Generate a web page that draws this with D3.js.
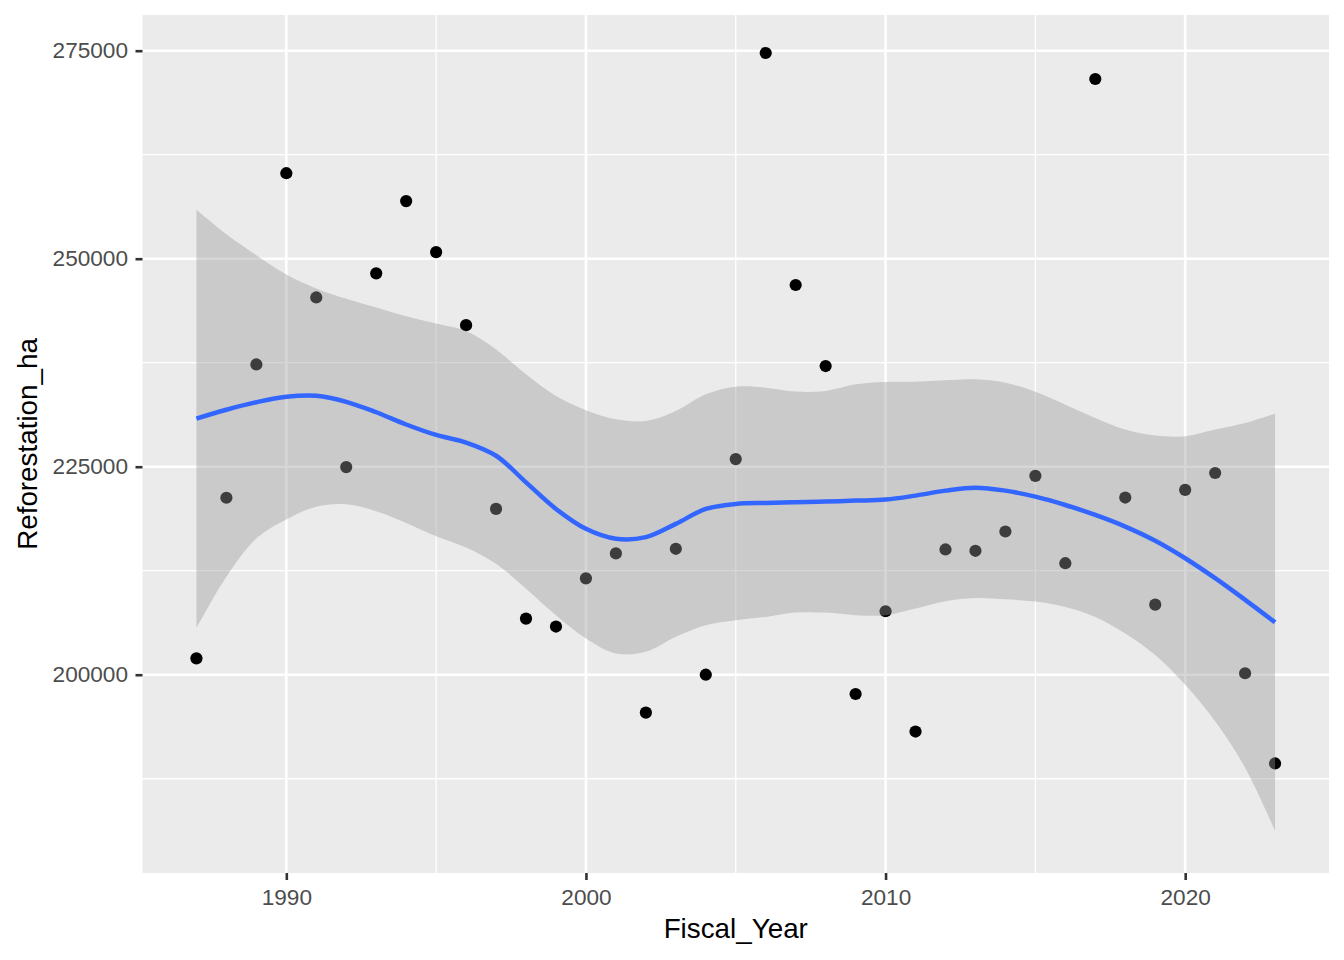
<!DOCTYPE html>
<html>
<head>
<meta charset="utf-8">
<script src="https://cdn.jsdelivr.net/npm/d3@7"></script>
<style>
  html, body { margin: 0; padding: 0; background: #ffffff; }
  svg { display: block; }
  text { font-family: "Liberation Sans", Arial, Helvetica, sans-serif; }
</style>
</head>
<body>
<svg id="chart" width="1344" height="960"></svg>
<script>
// ---- Data ----
const years = [1987,1988,1989,1990,1991,1992,1993,1994,1995,1996,1997,1998,1999,2000,2001,2002,2003,2004,2005,2006,2007,2008,2009,2010,2011,2012,2013,2014,2015,2016,2017,2018,2019,2020,2021,2022,2023];
const reforestation = [201971,221267,237290,260277,245344,224958,248238,256921,250797,242013,219928,206749,205791,211581,214577,195447,215136,200000,225919,274724,246839,237101,197684,207628,193171,215056,214896,217212,223900,213404,271599,221294,208424,222211,224243,200175,189337];
// loess smooth (fit and 95% band) read at each year
const smoothFit = [230789,231850,232750,233400,233515,232802,231544,230075,228817,227900,226318,223123,219928,217532,216334,216534,218131,219928,220527,220647,220727,220807,220927,221046,221526,222125,222484,222125,221400,220400,219200,217800,216100,214000,211600,209000,206300];
const smoothLower = [205600,211780,216390,218670,220190,220480,219650,218250,216650,215300,213339,210343,207149,204353,202556,202756,204553,205951,206550,206949,207468,207468,207149,207149,207947,208826,209225,209066,208800,208145,206950,204958,202368,198781,194398,188819,181248];
const smoothUpper = [255872,252936,250419,248112,246434,245176,244127,243079,242200,241300,239100,236100,233500,231800,230700,230500,231709,233706,234625,234505,234026,234105,234904,235184,235224,235383,235503,235104,234000,232451,230858,229463,228746,228666,229463,230260,231376];
const xTicks = [1990, 2000, 2010, 2020];
const xMinor = [1995, 2005, 2015];
const yTicks = [200000, 225000, 250000, 275000];
const yMinor = [187500, 212500, 237500, 262500];
const xDomain = [1985.2, 2024.8];
const yDomain = [176170, 279290];
const xLabel = "Fiscal_Year";
const yLabel = "Reforestation_ha";

// ---- Layout ----
const svg = d3.select("#chart");
const P = { left: 142.5, right: 1329, top: 15, bottom: 873 };

const x = d3.scaleLinear().domain(xDomain).range([P.left, P.right]);
const y = d3.scaleLinear().domain(yDomain).range([P.bottom, P.top]);

const pts = years.map((yr, i) => ({ yr, v: reforestation[i] }));
const sm = years.map((yr, i) => ({ yr, f: smoothFit[i], lo: smoothLower[i], hi: smoothUpper[i] }));

// panel background
svg.append("rect")
  .attr("x", P.left).attr("y", P.top)
  .attr("width", P.right - P.left).attr("height", P.bottom - P.top)
  .attr("fill", "#EBEBEB");

const grid = svg.append("g");
// minor grid
grid.selectAll("line.xmin").data(xMinor).join("line")
  .attr("class", "xmin")
  .attr("x1", d => x(d)).attr("x2", d => x(d))
  .attr("y1", P.top).attr("y2", P.bottom)
  .attr("stroke", "#ffffff").attr("stroke-width", 1.3);
grid.selectAll("line.ymin").data(yMinor).join("line")
  .attr("class", "ymin")
  .attr("x1", P.left).attr("x2", P.right)
  .attr("y1", d => y(d)).attr("y2", d => y(d))
  .attr("stroke", "#ffffff").attr("stroke-width", 1.3);
// major grid
grid.selectAll("line.xmaj").data(xTicks).join("line")
  .attr("class", "xmaj")
  .attr("x1", d => x(d)).attr("x2", d => x(d))
  .attr("y1", P.top).attr("y2", P.bottom)
  .attr("stroke", "#ffffff").attr("stroke-width", 2.6);
grid.selectAll("line.ymaj").data(yTicks).join("line")
  .attr("class", "ymaj")
  .attr("x1", P.left).attr("x2", P.right)
  .attr("y1", d => y(d)).attr("y2", d => y(d))
  .attr("stroke", "#ffffff").attr("stroke-width", 2.6);

// points
svg.append("g").selectAll("circle").data(pts).join("circle")
  .attr("cx", d => x(d.yr)).attr("cy", d => y(d.v))
  .attr("r", 6.1).attr("fill", "#000000");

// confidence band
const area = d3.area()
  .x(d => x(d.yr)).y0(d => y(d.lo)).y1(d => y(d.hi))
  .curve(d3.curveCatmullRom.alpha(0.5));
svg.append("path").datum(sm)
  .attr("d", area)
  .attr("fill", "#999999").attr("fill-opacity", 0.4);

// smooth line
const line = d3.line()
  .x(d => x(d.yr)).y(d => y(d.f))
  .curve(d3.curveCatmullRom.alpha(0.5));
svg.append("path").datum(sm)
  .attr("d", line)
  .attr("fill", "none").attr("stroke", "#3366FF").attr("stroke-width", 4.5);

// axes
const xAxis = d3.axisBottom(x).tickValues(xTicks).tickFormat(d3.format("d")).tickSize(7).tickPadding(8.5);
const yAxis = d3.axisLeft(y).tickValues(yTicks).tickFormat(d3.format("d")).tickSize(7).tickPadding(7.5);

const gx = svg.append("g").attr("transform", `translate(0,${P.bottom})`).call(xAxis);
const gy = svg.append("g").attr("transform", `translate(${P.left},0)`).call(yAxis);
[gx, gy].forEach(g => {
  g.select(".domain").remove();
  g.selectAll(".tick line").attr("stroke", "#333333").attr("stroke-width", 2.6);
  g.selectAll(".tick text").attr("fill", "#4D4D4D").attr("font-size", 22.6)
    .attr("font-family", "'Liberation Sans', Arial, Helvetica, sans-serif");
});

// axis titles
svg.append("text")
  .attr("x", (P.left + P.right) / 2).attr("y", 938)
  .attr("text-anchor", "middle").attr("font-size", 27.8).attr("fill", "#000000")
  .text(xLabel);
svg.append("text")
  .attr("transform", `translate(36.5,${(P.top + P.bottom) / 2}) rotate(-90)`)
  .attr("text-anchor", "middle").attr("font-size", 27.8).attr("fill", "#000000")
  .text(yLabel);
</script>
</body>
</html>
